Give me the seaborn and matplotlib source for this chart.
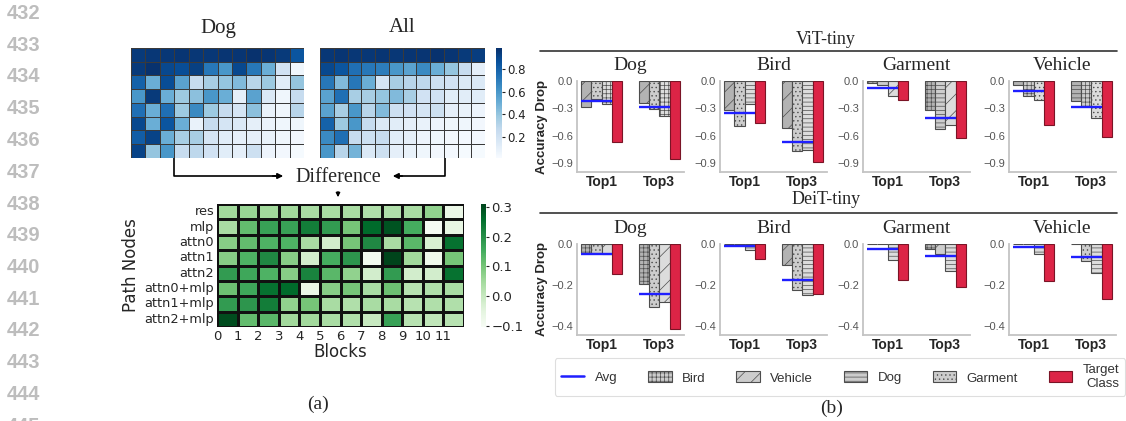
import numpy as np
import pandas as pd
import seaborn as sns
import matplotlib.pyplot as plt
from matplotlib.patches import Patch
from matplotlib.lines import Line2D

W, H = 1126, 421

# ---------------- (a) heatmaps ----------------
blocks = list(range(12))
path_nodes = ["res", "mlp", "attn0", "attn1", "attn2", "attn0+mlp", "attn1+mlp", "attn2+mlp"]

dog_scores = [
    [0.95, 0.96, 0.96, 0.97, 0.96, 0.96, 0.97, 0.97, 0.98, 0.97, 0.95, 0.85],
    [0.95, 0.98, 0.90, 0.88, 0.93, 0.72, 0.60, 0.90, 0.72, 0.50, 0.20, 0.05],
    [0.80, 0.50, 0.88, 0.55, 0.25, 0.35, 0.40, 0.45, 0.30, 0.38, 0.12, 0.40],
    [0.60, 0.95, 0.50, 0.38, 0.42, 0.60, 0.50, 0.10, 0.55, 0.15, 0.05, 0.25],
    [0.75, 0.50, 0.75, 0.38, 0.65, 0.38, 0.25, 0.18, 0.42, 0.08, 0.05, 0.30],
    [0.90, 0.50, 0.85, 0.50, 0.08, 0.25, 0.18, 0.15, 0.10, 0.07, 0.05, 0.05],
    [0.82, 0.92, 0.50, 0.35, 0.35, 0.18, 0.12, 0.10, 0.10, 0.08, 0.05, 0.04],
    [0.92, 0.40, 0.60, 0.25, 0.28, 0.20, 0.12, 0.10, 0.22, 0.06, 0.04, 0.02],
]
all_scores = [
    [0.96, 0.97, 0.96, 0.96, 0.97, 0.96, 0.97, 0.97, 0.98, 0.97, 0.95, 0.94],
    [0.90, 0.85, 0.75, 0.72, 0.70, 0.60, 0.55, 0.65, 0.50, 0.40, 0.25, 0.10],
    [0.72, 0.45, 0.72, 0.50, 0.18, 0.35, 0.30, 0.28, 0.22, 0.20, 0.15, 0.15],
    [0.55, 0.75, 0.35, 0.35, 0.40, 0.45, 0.35, 0.20, 0.20, 0.12, 0.12, 0.12],
    [0.55, 0.35, 0.60, 0.30, 0.45, 0.22, 0.20, 0.18, 0.22, 0.10, 0.08, 0.06],
    [0.80, 0.38, 0.60, 0.25, 0.15, 0.12, 0.10, 0.08, 0.06, 0.05, 0.05, 0.04],
    [0.65, 0.75, 0.25, 0.22, 0.25, 0.12, 0.10, 0.06, 0.05, 0.04, 0.03, 0.03],
    [0.60, 0.30, 0.48, 0.15, 0.22, 0.10, 0.08, 0.05, 0.04, 0.03, 0.02, 0.02],
]
diff_scores = [
    [0.05, 0.06, 0.05, 0.05, 0.04, 0.04, 0.04, 0.03, 0.03, 0.04, 0.07, -0.07],
    [0.04, 0.12, 0.17, 0.17, 0.23, 0.18, 0.10, 0.26, 0.29, 0.15, -0.10, -0.06],
    [0.08, 0.12, 0.14, 0.14, 0.04, -0.02, 0.10, 0.21, 0.04, 0.13, -0.03, 0.25],
    [0.08, 0.14, 0.21, 0.08, -0.02, 0.15, 0.19, -0.09, 0.31, 0.05, -0.08, 0.10],
    [0.18, 0.16, 0.14, 0.08, 0.22, 0.13, 0.07, -0.02, 0.18, -0.02, -0.02, 0.25],
    [0.11, 0.16, 0.25, 0.26, -0.07, 0.08, 0.10, 0.04, 0.11, 0.02, 0.03, 0.04],
    [0.18, 0.19, 0.23, 0.07, 0.10, 0.04, 0.03, 0.04, 0.04, 0.02, 0.03, 0.03],
    [0.30, 0.12, 0.13, 0.05, 0.05, 0.04, 0.03, 0.00, 0.17, 0.02, 0.01, 0.02],
]

# ---------------- (b) accuracy drops ----------------
classes = ["Dog", "Bird", "Garment", "Vehicle"]
topk = ["Top1", "Top3"]
legend_classes = ["Bird", "Vehicle", "Dog", "Garment"]

# other classes shown in each group (per panel, per top-k), and their drops
vit_names = {
    "Dog": [["Vehicle", "Garment", "Bird"], ["Vehicle", "Garment", "Bird"]],
    "Bird": [["Vehicle", "Garment", "Dog"], ["Vehicle", "Garment", "Dog"]],
    "Garment": [["Bird", "Dog", "Vehicle"], ["Bird", "Dog", "Vehicle"]],
    "Vehicle": [["Dog", "Bird", "Garment"], ["Dog", "Bird", "Garment"]],
}
vit_drops = {
    "Dog": [[-0.29, -0.20, -0.25], [-0.24, -0.31, -0.38]],
    "Bird": [[-0.32, -0.49, -0.25], [-0.52, -0.77, -0.76]],
    "Garment": [[-0.02, -0.045, -0.165], [-0.32, -0.53, -0.48]],
    "Vehicle": [[-0.045, -0.16, -0.21], [-0.22, -0.27, -0.41]],
}
vit_target = {"Dog": [-0.67, -0.86], "Bird": [-0.46, -0.89],
              "Garment": [-0.21, -0.63], "Vehicle": [-0.48, -0.62]}
vit_avg = {"Dog": [-0.225, -0.29], "Bird": [-0.35, -0.67],
           "Garment": [-0.08, -0.41], "Vehicle": [-0.115, -0.29]}

deit_names = {
    "Dog": [["Bird", "Garment", "Vehicle"], ["Bird", "Garment", "Vehicle"]],
    "Bird": [["Vehicle", "Garment", "Dog"], ["Vehicle", "Garment", "Dog"]],
    "Garment": [["Bird", "Vehicle", "Dog"], ["Bird", "Vehicle", "Dog"]],
    "Vehicle": [["Bird", "Garment", "Dog"], ["Bird", "Garment", "Dog"]],
}
deit_drops = {
    "Dog": [[-0.045, -0.045, -0.05], [-0.195, -0.31, -0.285]],
    "Bird": [[0.0, 0.0, -0.03], [-0.105, -0.225, -0.25]],
    "Garment": [[0.0, 0.0, -0.08], [-0.025, -0.05, -0.13]],
    "Vehicle": [[0.0, 0.0, -0.05], [0.0, -0.085, -0.14]],
}
deit_target = {"Dog": [-0.145, -0.415], "Bird": [-0.075, -0.245],
               "Garment": [-0.175, -0.21], "Vehicle": [-0.18, -0.27]}
deit_avg = {"Dog": [-0.05, -0.245], "Bird": [-0.01, -0.175],
            "Garment": [-0.025, -0.06], "Vehicle": [-0.015, -0.065]}

vit_ticks = [0.0, -0.3, -0.6, -0.9]
deit_ticks = [0.0, -0.2, -0.4]

hatches = {"Bird": "++++", "Vehicle": "//", "Dog": "----", "Garment": "...."}
slots = ["p0", "p1", "p2", "target"]
slot_colors = {"p0": "#b3b3b3", "p1": "#cdcdcd", "p2": "#dcdcdc", "target": "#dc2446"}
avg_color = "#1f1fff"
serif = "Liberation Serif"
sans = "Liberation Sans"

sns.set_style("white")
plt.rcParams["hatch.linewidth"] = 0.5

fig = plt.figure(figsize=(W / 100, H / 100), dpi=100)


def px_axes(x0, y0, x1, y1):
    return fig.add_axes([x0 / W, 1 - y1 / H, (x1 - x0) / W, (y1 - y0) / H])


# overlay in pixel coordinates for text, arrows and rules
ov = fig.add_axes([0, 0, 1, 1])
ov.set_xlim(0, W)
ov.set_ylim(H, 0)
ov.axis("off")
ov.patch.set_alpha(0)

# line numbers on the left margin (the last one is cut by the page edge)
for i, n in enumerate(range(432, 446)):
    ov.text(7, 13.5 + 31.75 * i, str(n), ha="left", va="center", fontsize=14.5,
            fontweight="bold", color="#bdbdbd", family=sans)

# top heatmaps
ax_dog = px_axes(131, 48, 304, 158)
sns.heatmap(np.array(dog_scores), ax=ax_dog, cmap="Blues", vmin=0.01, vmax=0.99,
            cbar=False, linewidths=0.6, linecolor="#3a3a3a",
            xticklabels=False, yticklabels=False)
ax_all = px_axes(320, 48, 485, 158)
cax_top = px_axes(496, 48, 502, 158)
sns.heatmap(np.array(all_scores), ax=ax_all, cmap="Blues", vmin=0.01, vmax=0.99,
            cbar_ax=cax_top, linewidths=0.6, linecolor="#3a3a3a",
            xticklabels=False, yticklabels=False)
cax_top.set_yticks([0.2, 0.4, 0.6, 0.8])
cax_top.tick_params(labelsize=8.5, length=2, pad=2, colors="#222")
ov.text(218, 28, "Dog", ha="center", va="center", fontsize=15, family=serif)
ov.text(402, 28, "All", ha="center", va="center", fontsize=15, family=serif)

# arrows to "Difference"
ov.plot([174, 174, 280], [158, 176, 176], color="black", lw=1.2)
ov.annotate("", xy=(286, 176), xytext=(270, 176),
            arrowprops=dict(arrowstyle="-|>", color="black", lw=1.2, mutation_scale=8))
ov.plot([445, 445, 396], [158, 176, 176], color="black", lw=1.2)
ov.annotate("", xy=(390, 176), xytext=(405, 176),
            arrowprops=dict(arrowstyle="-|>", color="black", lw=1.2, mutation_scale=8))
ov.text(338, 177, "Difference", ha="center", va="center", fontsize=14.5, family=serif)
ov.annotate("", xy=(338, 200), xytext=(338, 189),
            arrowprops=dict(arrowstyle="-|>", color="black", lw=1.0, mutation_scale=6))

# difference heatmap
ax_diff = px_axes(217, 204, 464, 327)
cax_bot = px_axes(481, 204, 486, 327)
sns.heatmap(np.array(diff_scores), ax=ax_diff, cmap="Greens", vmin=-0.105, vmax=0.31,
            cbar_ax=cax_bot, linewidths=0.8, linecolor="#111111",
            xticklabels=False, yticklabels=path_nodes)
ax_diff.set_xticks(np.arange(len(blocks)))
ax_diff.set_xticklabels([str(b) for b in blocks], rotation=0)
ax_diff.tick_params(axis="x", labelsize=9.5, length=0, pad=2)
ax_diff.tick_params(axis="y", labelsize=9.3, length=0, pad=2, rotation=0)
ax_diff.set_xlabel("Blocks", fontsize=12, labelpad=0)
ax_diff.set_ylabel("Path Nodes", fontsize=12, labelpad=3)
cax_bot.set_yticks([-0.1, 0.0, 0.1, 0.2, 0.3])
cax_bot.set_yticklabels(["\u22120.1", "0.0", "0.1", "0.2", "0.3"])
cax_bot.tick_params(labelsize=9.5, length=2.5, pad=1.5)

ov.text(318, 404, "(a)", ha="center", va="center", fontsize=14, family=serif)

# ---------------- bar panels ----------------
col_x = [577, 720, 863, 1009]
rows_cfg = [
    (81, 172, vit_names, vit_drops, vit_target, vit_avg, vit_ticks, -1.0),
    (244, 335, deit_names, deit_drops, deit_target, deit_avg, deit_ticks, -0.445),
]

for r, (y0, y1, names, drops, target, avg, yticks, ybot) in enumerate(rows_cfg):
    for c, cls in enumerate(classes):
        ax = px_axes(col_x[c], y0, col_x[c] + 107, y1)
        recs = []
        for k, t in enumerate(topk):
            for p in range(3):
                recs.append({"topk": t, "slot": slots[p], "drop": drops[cls][k][p]})
            recs.append({"topk": t, "slot": "target", "drop": target[cls][k]})
        df = pd.DataFrame(recs)
        sns.barplot(data=df, x="topk", y="drop", hue="slot", order=topk,
                    hue_order=slots, palette=slot_colors, width=0.72, saturation=1,
                    errorbar=None, legend=False, ax=ax)
        for p, cont in enumerate(ax.containers):
            for k, bar in enumerate(cont):
                if p < 3:
                    bar.set_hatch(hatches[names[cls][k][p]])
                    bar.set_edgecolor("#4d4d4d")
                else:
                    bar.set_edgecolor("#7a1426")
                bar.set_linewidth(0.8)
        for k in range(len(topk)):
            ax.hlines(avg[cls][k], k - 0.36, k + 0.18, color=avg_color, lw=1.7, zorder=5)
        ax.set_xlim(-0.43, 1.43)
        ax.set_ylim(ybot, 0.0)
        ax.set_yticks(yticks)
        ax.set_yticklabels([f"{v:.1f}".replace("-", "\u2212") for v in yticks],
                           family=sans, fontsize=8, color="#555555")
        ax.set_xticks(range(len(topk)))
        ax.set_xticklabels(topk, family=sans, fontsize=10, fontweight="bold")
        ax.tick_params(axis="both", length=0)
        ax.tick_params(axis="y", pad=3)
        ax.tick_params(axis="x", pad=2)
        for s in ["top", "right"]:
            ax.spines[s].set_visible(False)
        for s in ["left", "bottom"]:
            ax.spines[s].set_color("#c4c4c4")
            ax.spines[s].set_linewidth(1.3)
        ax.set_xlabel("")
        if c == 0:
            ax.set_ylabel("Accuracy Drop", family=sans, fontsize=9.5,
                          fontweight="bold", labelpad=2)
        else:
            ax.set_ylabel("")
        ax.set_title(cls, family=serif, fontsize=14, pad=8)

ov.text(826, 40, "ViT-tiny", ha="center", va="center", fontsize=13, family=serif)
ov.plot([540, 1117], [50.5, 50.5], color="#333333", lw=1.2)
ov.text(826, 200, "DeiT-tiny", ha="center", va="center", fontsize=13, family=serif)
ov.plot([540, 1117], [212.5, 212.5], color="#333333", lw=1.2)

handles = [Line2D([0], [0], color=avg_color, lw=1.8)]
for name in legend_classes:
    handles.append(Patch(facecolor="#cccccc", edgecolor="#4d4d4d", hatch=hatches[name], lw=0.8))
handles.append(Patch(facecolor=slot_colors["target"], edgecolor="#7a1426", lw=0.8))
labels = ["Avg"] + legend_classes + ["Target\nClass"]
leg = fig.legend(handles, labels, loc="center", bbox_to_anchor=(840 / W, 1 - 377 / H),
                 ncol=6, frameon=True, fancybox=True,
                 prop={"family": sans, "size": 9.5}, handlelength=1.8,
                 handleheight=0.9, handletextpad=0.8, columnspacing=2.3,
                 borderpad=0.45)
leg.get_frame().set_edgecolor("#d6d6d6")
leg.get_frame().set_linewidth(0.8)
for t in leg.get_texts():
    t.set_color("#333333")
leg.get_texts()[-1].set_multialignment("right")

ov.text(832, 408, "(b)", ha="center", va="center", fontsize=14, family=serif)

fig.savefig("out.png", dpi=100)
